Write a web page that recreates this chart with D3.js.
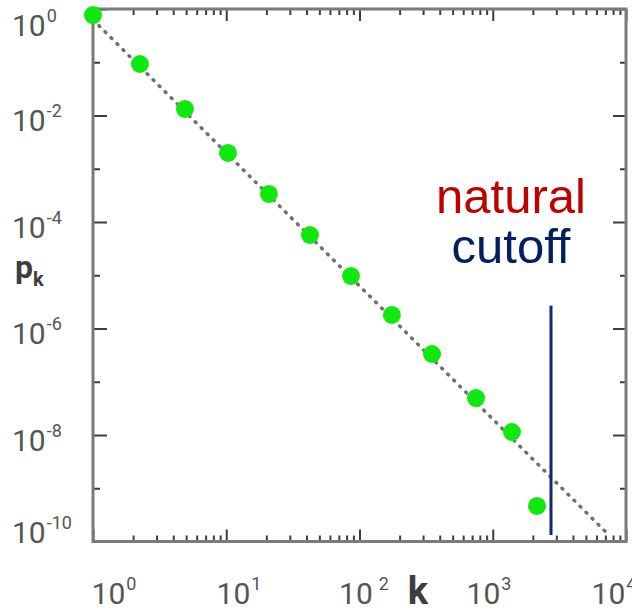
<!DOCTYPE html>
<html>
<head>
<meta charset="utf-8">
<script src="https://cdn.jsdelivr.net/npm/d3@7"></script>
<style>
  html, body { margin: 0; padding: 0; background: #fff; }
  svg { display: block; }
</style>
</head>
<body>
<svg id="chart" width="632" height="610"></svg>
<script>
// Log-binned degree distribution of a scale-free network
const degree = [1, 2.25, 4.9, 10.3, 20.9, 42.5, 86.3, 175, 350, 749, 1394, 2148];
const probability = [0.77, 0.0927, 0.01324, 0.001977, 3.36e-4, 5.7e-5, 9.68e-6,
                     1.795e-6, 3.32e-7, 4.95e-8, 1.138e-8, 4.65e-10];

// Power-law fit p_k ~ k^-2.5, given by its two end points
const fitK = [1, 7200];
const fitP = [0.63, 1.43e-10];

// Natural cutoff marker
const cutoffK = 2736;
const cutoffP = [2.68e-6, 1.32e-10];

// Axis ticks and labels
const xDecades = [1, 10, 100, 1000, 10000];
const xLabelExp = ["0", "1", "2", "3", "4"];
const yMajor = [1, 1e-2, 1e-4, 1e-6, 1e-8, 1e-10];
const yMinor = [1e-1, 1e-3, 1e-5, 1e-7, 1e-9];
const yLabelExp = ["0", "-2", "-4", "-6", "-8", "-10"];
const annotation = ["natural", "cutoff"];

const svg = d3.select("#chart");
const plotLeft = 93, plotRight = 626, plotTop = 9, plotBottom = 541.5;

const x = d3.scaleLog().domain([1, 1e4]).range([plotLeft, plotRight]);
const y = d3.scaleLog().domain([1e-10, 1]).range([plotBottom, plotTop]);
// label placement scale along x (labels sit slightly inside the frame ends)
const xLab = d3.scaleLog().domain([1, 1e4]).range([114, 614]);

const xMinor = [];
for (let d = 1; d < 1e4; d *= 10) for (let m = 2; m <= 9; m++) xMinor.push(d * m);

const tickColor = "#3c3c3c";
const frameColor = "#7b7b7b";

function drawAxis(gen, transform) {
  const g = svg.append("g").attr("transform", transform).call(gen);
  g.select(".domain").remove();
  g.selectAll(".tick line").attr("stroke", tickColor).attr("stroke-width", 2);
  g.selectAll(".tick text").remove();
  return g;
}

// bottom and top ticks (pointing inward)
drawAxis(d3.axisBottom(x).tickValues(xDecades).tickSize(-12).tickFormat(""), `translate(0,${plotBottom})`);
drawAxis(d3.axisBottom(x).tickValues(xMinor).tickSize(-6).tickFormat(""), `translate(0,${plotBottom})`);
drawAxis(d3.axisTop(x).tickValues(xDecades).tickSize(-12).tickFormat(""), `translate(0,${plotTop})`);
drawAxis(d3.axisTop(x).tickValues(xMinor).tickSize(-6).tickFormat(""), `translate(0,${plotTop})`);
// left and right ticks
drawAxis(d3.axisLeft(y).tickValues(yMajor).tickSize(-14).tickFormat(""), `translate(${plotLeft},0)`);
drawAxis(d3.axisLeft(y).tickValues(yMinor).tickSize(-7).tickFormat(""), `translate(${plotLeft},0)`);
drawAxis(d3.axisRight(y).tickValues(yMajor).tickSize(-13).tickFormat(""), `translate(${plotRight},0)`);
drawAxis(d3.axisRight(y).tickValues(yMinor).tickSize(-6).tickFormat(""), `translate(${plotRight},0)`);

// frame
svg.append("rect")
  .attr("x", plotLeft).attr("y", plotTop)
  .attr("width", plotRight - plotLeft).attr("height", plotBottom - plotTop)
  .attr("fill", "none").attr("stroke", frameColor).attr("stroke-width", 3);

// tick labels
const labelFont = "Roboto, 'DejaVu Sans', sans-serif";
const labelColor = "#555";

const xl = svg.append("g").attr("font-family", labelFont).attr("fill", labelColor);
xDecades.forEach((v, i) => {
  const t = xl.append("text").attr("x", xLab(v)).attr("y", 604)
    .attr("text-anchor", "middle").attr("font-size", 30);
  t.append("tspan").text("10");
  t.append("tspan").attr("dy", -14).attr("dx", i === 2 ? 6 : 1).attr("font-size", 18).text(xLabelExp[i]);
});

const yl = svg.append("g").attr("font-family", labelFont).attr("fill", labelColor);
yMajor.forEach((v, i) => {
  const cy = Math.max(25, Math.min(532, y(v) + 5));
  const t = yl.append("text").attr("x", 12).attr("y", cy + 10.5).attr("font-size", 30);
  t.append("tspan").text("10");
  t.append("tspan").attr("dy", -14).attr("dx", 1).attr("font-size", 18).text(yLabelExp[i]);
});

// axis titles
const titleColor = "#3d3d3d";
const pk = svg.append("text").attr("x", 15).attr("y", 278)
  .attr("font-family", labelFont).attr("font-weight", "bold")
  .attr("fill", titleColor).attr("font-size", 32);
pk.append("tspan").text("p");
pk.append("tspan").attr("dy", 8).attr("font-size", 20).text("k");

svg.append("text").attr("x", 418).attr("y", 604)
  .attr("text-anchor", "middle")
  .attr("font-family", labelFont).attr("font-weight", "bold")
  .attr("fill", titleColor).attr("font-size", 38).text("k");

// power-law fit line (dotted)
const line = d3.line().x(d => x(d[0])).y(d => y(d[1]));
svg.append("path")
  .datum(fitK.map((k, i) => [k, fitP[i]]))
  .attr("d", line)
  .attr("fill", "none").attr("stroke", "#707070")
  .attr("stroke-width", 3.5).attr("stroke-linecap", "round")
  .attr("stroke-dasharray", "1 7.5");

// natural cutoff line
svg.append("line")
  .attr("x1", x(cutoffK)).attr("x2", x(cutoffK))
  .attr("y1", y(cutoffP[0])).attr("y2", y(cutoffP[1]))
  .attr("stroke", "#0d2a6b").attr("stroke-width", 3);

// data points
svg.append("g").selectAll("circle")
  .data(degree.map((k, i) => [k, probability[i]]))
  .join("circle")
  .attr("cx", d => x(d[0])).attr("cy", d => y(d[1]))
  .attr("r", 9).attr("fill", "#10e810");

// annotation
const ann = svg.append("g").attr("font-family", "'Liberation Sans', Arial, sans-serif")
  .attr("font-size", 49).attr("text-anchor", "middle");
ann.append("text").attr("x", 511).attr("y", 213).attr("fill", "#c00000").text(annotation[0]);
ann.append("text").attr("x", 511).attr("y", 263).attr("fill", "#002060").text(annotation[1]);
</script>
</body>
</html>
